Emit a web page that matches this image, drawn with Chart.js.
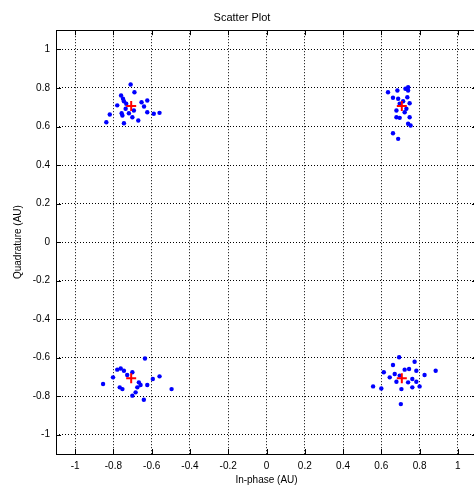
<!DOCTYPE html>
<html>
<head>
<meta charset="utf-8">
<script src="https://cdn.jsdelivr.net/npm/chart.js@4/dist/chart.umd.min.js"></script>
<style>
  html, body { margin: 0; padding: 0; overflow: hidden; background: #fff; }
  canvas { display: block; }
</style>
</head>
<body>
<!-- a bit wider than the window: the right edge of the box is cut off like in the original -->
<canvas id="chart" width="484" height="488"></canvas>
<script>
// received symbols, one pair of arrays per quadrant
var tlI = [-0.71, -0.69, -0.76, -0.75, -0.745, -0.733, -0.653, -0.623, -0.64, -0.736, -0.693, -0.757, -0.719, -0.623, -0.589, -0.559, -0.819, -0.753, -0.701, -0.837, -0.745, -0.67, -0.78];
var tlQ = [0.818, 0.778, 0.761, 0.744, 0.731, 0.718, 0.726, 0.735, 0.704, 0.692, 0.683, 0.669, 0.669, 0.674, 0.666, 0.671, 0.662, 0.657, 0.648, 0.622, 0.617, 0.631, 0.71];

var trI = [0.74, 0.726, 0.684, 0.635, 0.74, 0.736, 0.661, 0.688, 0.748, 0.679, 0.731, 0.722, 0.679, 0.696, 0.748, 0.74, 0.753, 0.661, 0.688, 0.714, 0.696];
var trQ = [0.804, 0.796, 0.787, 0.778, 0.787, 0.752, 0.749, 0.744, 0.721, 0.683, 0.692, 0.674, 0.648, 0.645, 0.648, 0.614, 0.605, 0.565, 0.536, 0.731, 0.718];

var blI = [-0.635, -0.762, -0.745, -0.802, -0.728, -0.701, -0.594, -0.559, -0.854, -0.667, -0.623, -0.767, -0.753, -0.675, -0.684, -0.496, -0.701, -0.641, -0.78, -0.658];
var blQ = [-0.604, -0.656, -0.668, -0.702, -0.69, -0.676, -0.711, -0.697, -0.737, -0.728, -0.742, -0.754, -0.763, -0.754, -0.78, -0.763, -0.797, -0.818, -0.662, -0.742];

var brI = [0.693, 0.774, 0.661, 0.722, 0.745, 0.783, 0.884, 0.613, 0.826, 0.67, 0.644, 0.762, 0.679, 0.74, 0.783, 0.557, 0.6, 0.762, 0.8, 0.705, 0.702, 0.696];
var brQ = [-0.598, -0.621, -0.638, -0.662, -0.659, -0.668, -0.668, -0.676, -0.69, -0.685, -0.702, -0.711, -0.725, -0.728, -0.725, -0.749, -0.76, -0.754, -0.749, -0.763, -0.841, -0.693];

// ideal constellation points
var refI = [-0.7071, 0.7071, -0.7071, 0.7071];
var refQ = [0.7071, 0.7071, -0.7071, -0.7071];

var tickValues = [-1, -0.8, -0.6, -0.4, -0.2, 0, 0.2, 0.4, 0.6, 0.8, 1];

function toPoints(xs, ys) {
  return xs.map(function (v, i) { return { x: v, y: ys[i] }; });
}

var received = [].concat(
  toPoints(tlI, tlQ), toPoints(trI, trQ),
  toPoints(blI, blQ), toPoints(brI, brQ)
);

var font = { family: '"Liberation Sans", Arial, sans-serif', size: 10 };

// matlab style box with inner tick marks
var boxPlugin = {
  id: 'box',
  afterDraw: function (chart) {
    var ctx = chart.ctx, a = chart.chartArea;
    var xs = chart.scales.x, ys = chart.scales.y;
    ctx.save();
    ctx.strokeStyle = '#000';
    ctx.lineWidth = 1;
    ctx.strokeRect(Math.round(a.left) + 0.5, Math.round(a.top) + 0.5,
      Math.round(a.right - a.left), Math.round(a.bottom - a.top));
    ctx.beginPath();
    xs.ticks.forEach(function (t) {
      var px = Math.round(xs.getPixelForValue(t.value)) + 0.5;
      ctx.moveTo(px, a.bottom); ctx.lineTo(px, a.bottom - 5);
      ctx.moveTo(px, a.top); ctx.lineTo(px, a.top + 5);
    });
    ys.ticks.forEach(function (t) {
      var py = Math.round(ys.getPixelForValue(t.value)) + 0.5;
      ctx.moveTo(a.left, py); ctx.lineTo(a.left + 5, py);
      ctx.moveTo(a.right, py); ctx.lineTo(a.right - 5, py);
    });
    ctx.stroke();
    ctx.restore();
  }
};

function fmt(v) { return String(Number(v.toFixed(1))); }

function axis(title, fit, titlePad) {
  return {
    type: 'linear',
    min: -1.1,
    max: 1.1,
    afterBuildTicks: function (s) {
      s.ticks = tickValues.map(function (v) { return { value: v }; });
    },
    afterFit: fit,
    grid: { color: '#000', lineWidth: 1, drawTicks: false },
    border: { display: false, dash: [1, 2] },
    ticks: { color: '#000', font: font, padding: 6, callback: fmt },
    title: { display: true, text: title, color: '#000', font: font, padding: titlePad }
  };
}

new Chart(document.getElementById('chart').getContext('2d'), {
  type: 'scatter',
  data: {
    datasets: [{
      label: 'Ideal',
      data: toPoints(refI, refQ),
      order: 0,
      pointStyle: 'cross',
      pointRadius: 5,
      borderColor: '#ff0000',
      borderWidth: 2
    }, {
      label: 'Received',
      data: received,
      order: 1,
      pointStyle: 'circle',
      pointRadius: 2.2,
      backgroundColor: '#0000ff',
      borderColor: '#0000ff',
      borderWidth: 0
    }]
  },
  options: {
    responsive: false,
    animation: false,
    layout: { padding: 0 },
    plugins: {
      legend: { display: false },
      tooltip: { enabled: false },
      title: {
        display: true,
        text: 'Scatter Plot',
        color: '#000',
        font: { family: '"Liberation Sans", Arial, sans-serif', size: 11, weight: 'normal' },
        padding: { top: 11, bottom: 6 }
      }
    },
    scales: {
      x: axis('In-phase (AU)', function (s) { s.height = 34; }, { top: 0, bottom: 2 }),
      y: axis('Quadrature (AU)', function (s) { s.width = 56; }, { top: 12, bottom: 0 })
    }
  },
  plugins: [boxPlugin]
});
</script>
</body>
</html>
